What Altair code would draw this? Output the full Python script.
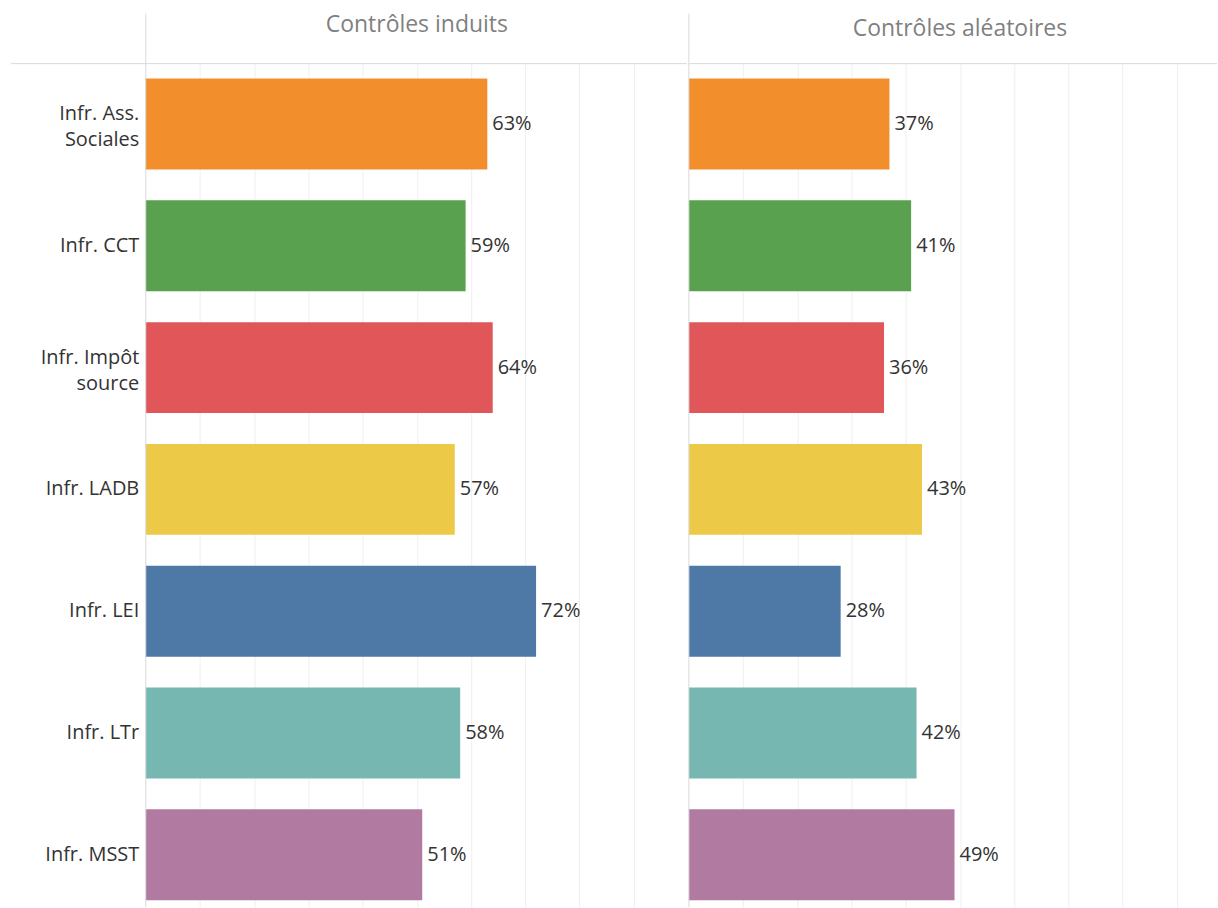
import altair as alt
import pandas as pd

categories = ["Infr. Ass.|Sociales", "Infr. CCT", "Infr. Impôt|source", "Infr. LADB",
              "Infr. LEI", "Infr. LTr", "Infr. MSST"]
induits = [63, 59, 64, 57, 72, 58, 51]
aleatoires = [37, 41, 36, 43, 28, 42, 49]
panel_titles = ["Contrôles induits", "Contrôles aléatoires"]
colors = ["#F28E2B", "#59A14F", "#E15759", "#EDC948", "#4E79A7", "#76B7B2", "#B07AA1"]

FONT = "Open Sans"
LINE = "#d9d9d9"
GRID = "#efefef"
H = 845
W1 = 543
W2 = 529


def frame(values):
    return pd.DataFrame({
        "cat": categories,
        "v": [x / 100 for x in values],
        "label": [f"{x}%" for x in values],
    })


yscale = alt.Scale(domain=categories, paddingInner=0.254, paddingOuter=0.09, align=0.68)
cscale = alt.Scale(domain=categories, range=colors)
one = pd.DataFrame({"t": [0]})


def panel(values, title, width, xmax, grid_vals, show_y, title_y):
    df = frame(values)
    if show_y:
        yaxis = alt.Axis(title=None, labelExpr="split(datum.label, '|')", labelFontSize=20,
                         labelFont=FONT, labelColor="#333333", labelPadding=7, ticks=False,
                         domain=False, labelLineHeight=26, labelLimit=200,
                         labelOffset={"condition": {"test": "indexof(datum.value, '|') >= 0",
                                                    "value": -10},
                                      "value": 0})
    else:
        yaxis = None
    base = alt.Chart(df).encode(
        y=alt.Y("cat:N", scale=yscale, sort=categories, axis=yaxis),
    )
    bars = base.mark_bar().encode(
        x=alt.X("v:Q", scale=alt.Scale(domain=[0, xmax], nice=False, zero=True),
                axis=alt.Axis(title=None, labels=False, ticks=False, domain=False, grid=True,
                              gridColor=GRID, values=grid_vals)),
        color=alt.Color("cat:N", scale=cscale, legend=None),
    )
    texts = base.mark_text(align="left", baseline="middle", dx=5, fontSize=20, font=FONT,
                           color="#333333").encode(
        x=alt.X("v:Q"),
        text="label:N",
    )
    left_ext = -135 if show_y else 0
    hrule = alt.Chart(one).mark_rule(color=LINE, strokeWidth=1).encode(
        x=alt.value(left_ext), x2=alt.value(width - 1 if show_y else width), y=alt.value(0))
    vrule = alt.Chart(one).mark_rule(color=LINE, strokeWidth=1).encode(
        x=alt.value(0), y=alt.value(-50), y2=alt.value(H))
    head = alt.Chart(pd.DataFrame({"t": [title]})).mark_text(
        fontSize=23, font=FONT, color="#7f7f7f", baseline="middle", align="center").encode(
        text="t:N", x=alt.value(W1 / 2), y=alt.value(title_y))
    return alt.layer(bars, texts, hrule, vrule, head).properties(width=width, height=H)


left = panel(induits, panel_titles[0], W1, 1.0,
             [0.1, 0.2, 0.3, 0.4, 0.5, 0.6, 0.7, 0.8, 0.9], True, -39)
right = panel(aleatoires, panel_titles[1], W2, W2 / W1,
              [0.1, 0.2, 0.3, 0.4, 0.5, 0.6, 0.7, 0.8, 0.9], False, -35)

chart = alt.hconcat(left, right, spacing=0).resolve_scale(y="shared").properties(
    padding={"left": 10, "top": 12, "right": 0, "bottom": 0},
    background="white",
).configure_view(stroke=None)

chart.save("out.html", embed_options={"renderer": "svg", "actions": False})
